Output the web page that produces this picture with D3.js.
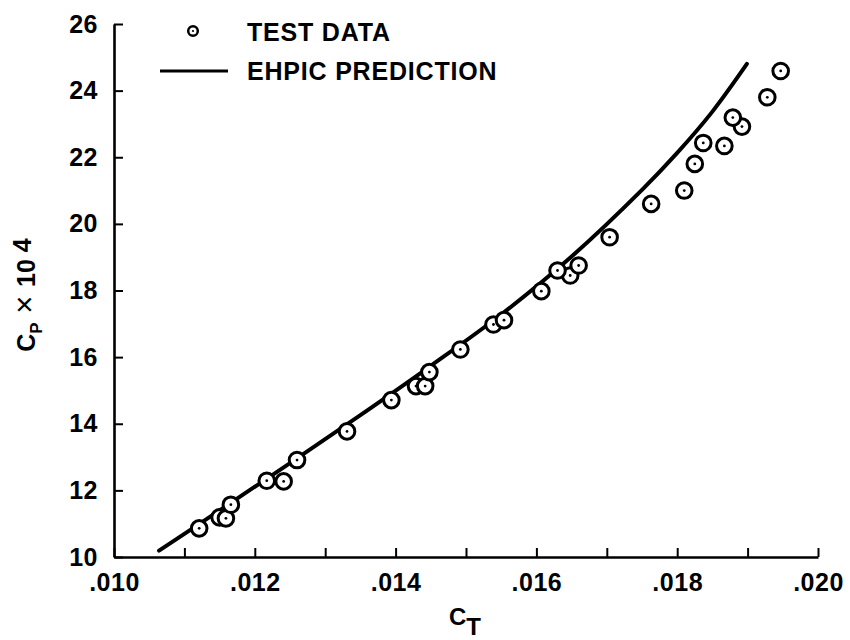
<!DOCTYPE html>
<html>
<head>
<meta charset="utf-8">
<script src="https://cdn.jsdelivr.net/npm/d3@7"></script>
<style>
  html, body { margin: 0; padding: 0; background: #fff; }
  svg { display: block; }
  text { font-family: "Liberation Sans", Arial, sans-serif; font-weight: bold; fill: #000; }
</style>
</head>
<body>
<svg id="chart" width="850" height="640"></svg>
<script>
// ---- data ----
const testCT = [0.01121, 0.01150, 0.01159, 0.01166, 0.01217, 0.01241, 0.01260, 0.01331,
                0.01394, 0.01429, 0.01442, 0.01448, 0.01492, 0.01539, 0.01554, 0.01607,
                0.01648, 0.01630, 0.01660, 0.01704, 0.01763, 0.01810, 0.01825, 0.01837,
                0.01867, 0.01892, 0.01879, 0.01928, 0.01947];
const testCP = [10.86, 11.19, 11.16, 11.57, 12.29, 12.27, 12.91, 13.77,
                14.71, 15.13, 15.13, 15.55, 16.23, 16.98, 17.11, 17.98,
                18.45, 18.60, 18.75, 19.60, 20.60, 21.00, 21.80, 22.43,
                22.34, 22.92, 23.19, 23.80, 24.59];
const predCT = [0.01064, 0.0115, 0.0125, 0.0135, 0.0145, 0.0155, 0.0165, 0.0175, 0.0180, 0.0185, 0.01899];
const predCP = [10.19, 11.40, 12.82, 14.26, 15.74, 17.28, 19.02, 21.02, 22.13, 23.37, 24.80];
const xTicks = [0.010, 0.011, 0.012, 0.013, 0.014, 0.015, 0.016, 0.017, 0.018, 0.019, 0.020];
const xLabels = [".010", "", ".012", "", ".014", "", ".016", "", ".018", "", ".020"];
const yTicks = [10, 12, 14, 16, 18, 20, 22, 24, 26];
const legendLabels = ["TEST DATA", "EHPIC PREDICTION"];

// ---- scales ----
const svg = d3.select("#chart");
const x = d3.scaleLinear().domain([0.010, 0.020]).range([114, 818]);
const y = d3.scaleLinear().domain([10, 26]).range([557, 24]);

// ---- axes ----
const xAxis = d3.axisBottom(x)
  .tickValues(xTicks)
  .tickFormat((d, i) => xLabels[i])
  .tickSizeInner(-9).tickSizeOuter(0).tickPadding(16);
const gx = svg.append("g").attr("transform", `translate(0,${y(10)})`).call(xAxis);
gx.select(".domain").attr("stroke-width", 2.6);
gx.selectAll(".tick line").attr("stroke-width", 2);
gx.selectAll(".tick text").attr("font-size", 25).attr("font-family", "Liberation Sans, Arial, sans-serif")
  .attr("font-weight", "bold").attr("letter-spacing", 0.5);

const yAxis = d3.axisLeft(y)
  .tickValues(yTicks)
  .tickFormat(d3.format("d"))
  .tickSizeInner(-9).tickSizeOuter(0).tickPadding(16);
const gy = svg.append("g").attr("transform", `translate(${x(0.010)},0)`).call(yAxis);
gy.select(".domain").attr("stroke-width", 2.6);
gy.selectAll(".tick line").attr("stroke-width", 2);
gy.selectAll(".tick text").attr("font-size", 25).attr("font-family", "Liberation Sans, Arial, sans-serif")
  .attr("font-weight", "bold").attr("letter-spacing", 0.5);

// ---- axis titles ----
const xt = svg.append("text").attr("x", 449).attr("y", 625).attr("font-size", 24);
xt.append("tspan").text("C");
xt.append("tspan").attr("dy", 10).text("T");

const yt = svg.append("text")
  .attr("transform", "translate(35,295) rotate(-90)")
  .attr("text-anchor", "middle").attr("font-size", 25);
yt.append("tspan").text("C");
yt.append("tspan").attr("font-size", 17).attr("dy", 7).text("P");
yt.append("tspan").attr("dy", -7).attr("font-size", 31).attr("font-weight", "normal").text(" \u00D7 ");
yt.append("tspan").text("10 ");
yt.append("tspan").attr("dy", -4).text("4");

// ---- prediction line ----
const pred = predCT.map((c, i) => [c, predCP[i]]);
svg.append("path")
  .datum(pred)
  .attr("fill", "none").attr("stroke", "#000").attr("stroke-width", 4)
  .attr("stroke-linecap", "round")
  .attr("d", d3.line().x(d => x(d[0])).y(d => y(d[1])).curve(d3.curveCatmullRom.alpha(0.5)));

// ---- test data ----
const pts = testCT.map((c, i) => [c, testCP[i]]);
const gp = svg.append("g").selectAll("g").data(pts).join("g")
  .attr("transform", d => `translate(${x(d[0])},${y(d[1])})`);
gp.append("circle").attr("r", 7.8).attr("fill", "#fff").attr("stroke", "#000").attr("stroke-width", 3);
gp.append("circle").attr("r", 1.4).attr("fill", "#000");

// ---- legend ----
const lg = svg.append("g");
lg.append("circle").attr("cx", 193).attr("cy", 31).attr("r", 4.8)
  .attr("fill", "#fff").attr("stroke", "#000").attr("stroke-width", 2.5);
lg.append("circle").attr("cx", 193).attr("cy", 31).attr("r", 1.1).attr("fill", "#000");
lg.append("line").attr("x1", 160).attr("x2", 228).attr("y1", 71).attr("y2", 71)
  .attr("stroke", "#000").attr("stroke-width", 3);
lg.selectAll("text.leg").data(legendLabels).join("text").attr("class", "leg")
  .attr("x", 247).attr("y", (d, i) => 41 + i * 39)
  .attr("font-size", 25).attr("letter-spacing", 0.8)
  .text(d => d);
</script>
</body>
</html>
